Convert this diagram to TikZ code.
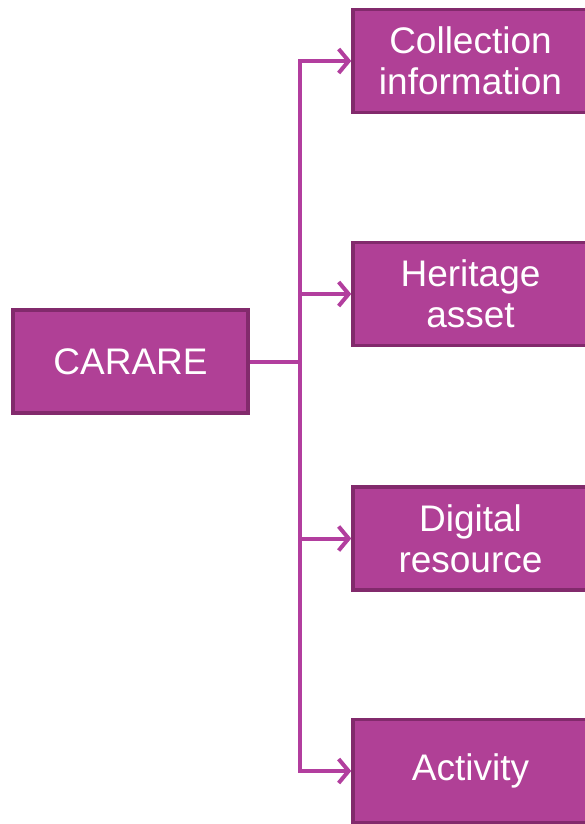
\documentclass[tikz,border=0pt]{standalone}
\usepackage{fontspec}
\setmainfont{Liberation Sans}
\usetikzlibrary{arrows.meta,positioning}
\definecolor{carfill}{RGB}{176,64,150}
\definecolor{cardraw}{RGB}{130,42,108}
\definecolor{carline}{RGB}{178,62,158}

\begin{document}
\begin{tikzpicture}[x=1pt,y=-1pt,>={Straight Barb[length=10pt,width=24pt,line width=4pt]},
	box/.style={draw=cardraw,line width=3.5pt,fill=carfill,text=white,
		minimum width=235pt,minimum height=103pt,inner sep=0pt,align=center,
		font=\fontsize{37}{41}\selectfont},
	link/.style={draw=carline,line width=4pt}]
\useasboundingbox (0,0) rectangle (585,824);
\clip (0,0) rectangle (585,824);

\node[box](car) at (130.5,361.5){CARARE};
\node[box](col) at (470.5,61){Collection\\information};
\node[box](her) at (470.5,294){Heritage\\asset};
\node[box](dig) at (470.5,538.5){Digital\\resource};
\node[box](act) at (470.5,771){Activity};

\coordinate (trunk) at (300,361.5);
\draw[link] (car.east) -- (trunk);
\draw[link,->] (trunk) |- (col.west);
\draw[link,->] (trunk) |- (her.west);
\draw[link,->] (trunk) |- (dig.west);
\draw[link,->] (trunk) |- (act.west);
\end{tikzpicture}
\end{document}
